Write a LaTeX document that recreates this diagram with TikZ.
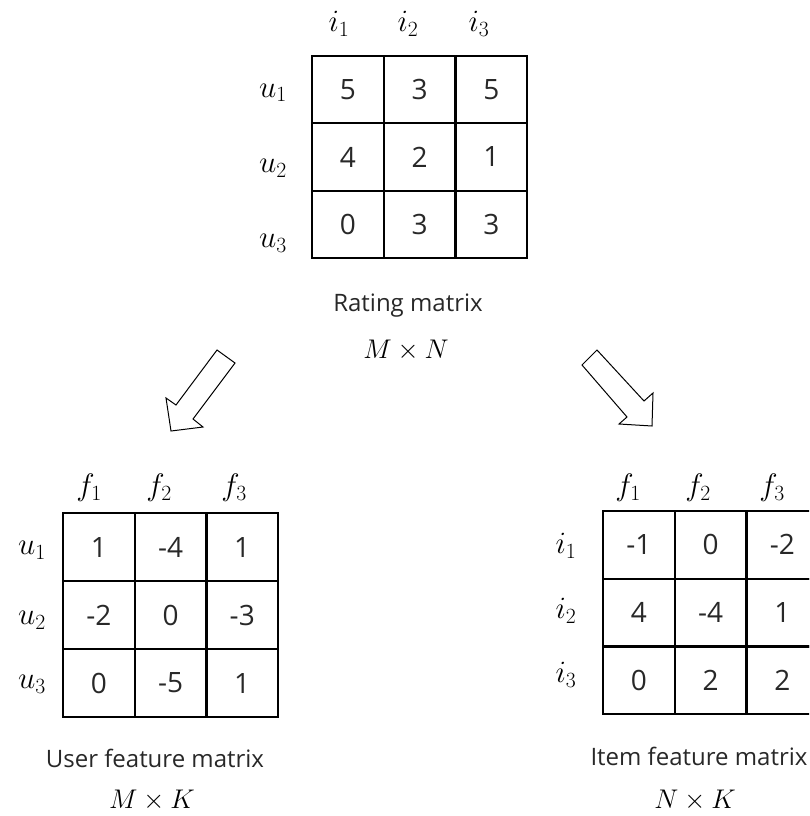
\RequirePackage{fix-cm}
\documentclass[tikz,border=0pt]{standalone}
\usepackage[no-math]{fontspec}
\setmainfont{Open Sans}
\definecolor{txt}{RGB}{40,40,40}
\begin{document}
\begin{tikzpicture}[x=1pt,y=-1pt,
  cell/.style={draw, line width=2.2pt, minimum width=71.7pt, minimum height=67.5pt, inner sep=0pt,
    font=\fontsize{28}{32}\selectfont, text=txt},
  lab/.style={inner sep=0pt, font=\fontsize{31}{34}\selectfont},
  captext/.style={inner sep=0pt, anchor=base, font=\fontsize{24}{28}\selectfont, text=txt},
  mlab/.style={inner sep=0pt, anchor=base, font=\fontsize{27}{30}\selectfont},
  blockarrow/.style={draw, line width=1pt, fill=white, line join=miter}]
\useasboundingbox (0,0) rectangle (809,816);
\clip (0,0) rectangle (809,816);

% Rating matrix
\foreach \r/\c/\v in {1/1/5,1/2/3,1/3/5,2/1/4,2/2/2,2/3/1,3/1/0,3/2/3,3/3/3}
  \node[cell, minimum height=67.3pt] (R\r\c) at ({312+71.7*(\c-0.5)},{56+67.3*(\r-0.5)}) {\v};
\node[lab] (Ri1) at (339,24) {$i_1$};
\node[lab] (Ri2) at (408,24) {$i_2$};
\node[lab] (Ri3) at (479,24) {$i_3$};
\node[lab] (Ru1) at (273,93) {$u_1$};
\node[lab] (Ru2) at (273,168) {$u_2$};
\node[lab] (Ru3) at (273,243) {$u_3$};
\node[captext] (Rcap) at (408,311) {Rating matrix};
\node[mlab] (Rdim) at (406,358) {$M \times N$};

% block arrows
\draw[blockarrow] (217,350) -- (235,363) -- (193,419) -- (203,427) -- (171,431) -- (166,398) -- (176,405) -- cycle;
\draw[blockarrow] (597,350) -- (644,401) -- (653,393) -- (652,426) -- (619,424) -- (627,417) -- (582,365) -- cycle;

% User feature matrix
\foreach \r/\c/\v in {1/1/1,1/2/-4,1/3/1,2/1/-2,2/2/0,2/3/-3,3/1/0,3/2/-5,3/3/1}
  \node[cell, minimum height=68pt] (U\r\c) at ({63+71.7*(\c-0.5)},{513+68*(\r-0.5)}) {\v};
\node[lab] (Uf1) at (89,488) {$f_1$};
\node[lab] (Uf2) at (159,488) {$f_2$};
\node[lab] (Uf3) at (234,488) {$f_3$};
\node[lab] (Uu1) at (32,550) {$u_1$};
\node[lab] (Uu2) at (32,620) {$u_2$};
\node[lab] (Uu3) at (32,684) {$u_3$};
\node[captext] (Ucap) at (155,767) {User feature matrix};
\node[mlab] (Udim) at (152,808) {$M \times K$};

% Item feature matrix
\foreach \r/\c/\v in {1/1/-1,1/2/0,1/3/-2,2/1/4,2/2/-4,2/3/1,3/1/0,3/2/2,3/3/2}
  \node[cell, minimum height=67.7pt] (I\r\c) at ({603+71.7*(\c-0.5)},{511+67.7*(\r-0.5)}) {\v};
\node[lab] (If1) at (628,488) {$f_1$};
\node[lab] (If2) at (698,488) {$f_2$};
\node[lab] (If3) at (772,488) {$f_3$};
\node[lab] (Ii1) at (566,546) {$i_1$};
\node[lab] (Ii2) at (566,611) {$i_2$};
\node[lab] (Ii3) at (566,675) {$i_3$};
\node[captext] (Icap) at (699,765) {Item feature matrix};
\node[mlab] (Idim) at (695,808) {$N \times K$};
\end{tikzpicture}
\end{document}
